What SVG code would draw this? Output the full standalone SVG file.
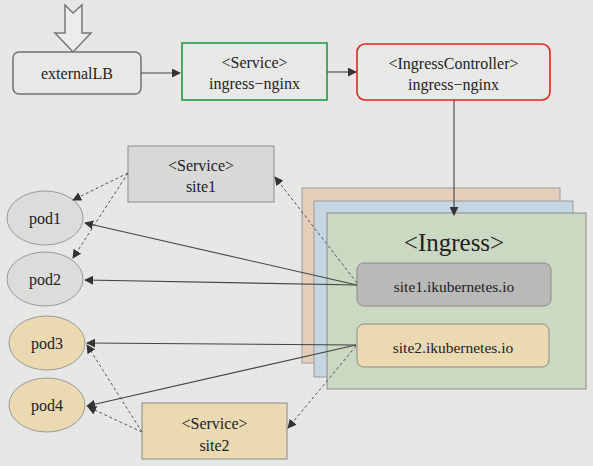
<svg xmlns="http://www.w3.org/2000/svg" width="593" height="466" viewBox="0 0 593 466">
<defs>
<pattern id="grid" width="8" height="8" patternUnits="userSpaceOnUse">
<path d="M8 0V8M0 8H8" stroke="#d9dbe2" stroke-width="0.6" stroke-dasharray="1 1" fill="none"/>
</pattern>
<marker id="ah" viewBox="0 0 10 10" refX="9" refY="5" markerWidth="9" markerHeight="9" markerUnits="userSpaceOnUse" orient="auto">
<path d="M0 0L10 5L0 10Z" fill="#333"/>
</marker>
</defs>
<style>
.t{fill:#222;text-anchor:middle;font-size:16px;font-family:'Liberation Serif','Times New Roman',serif}
.big{font-size:25px}
.mid{font-size:15.5px}
.solid{stroke:#444;stroke-width:1.1;fill:none;marker-end:url(#ah)}
.dash{stroke:#555;stroke-width:1;stroke-dasharray:3 2.5;fill:none;marker-end:url(#ah)}
.pod{stroke:#999;stroke-width:1}
</style>
<rect width="593" height="466" fill="#e7e8e6"/>
<rect width="593" height="466" fill="url(#grid)"/>

<g id="entry-arrow">
<path d="M65 5L73 13L82 5V33H91L73 52L55 33H65Z" fill="#ecedeb" stroke="#777" stroke-width="1.5"/>
</g>

<g id="externalLB">
<rect x="13" y="52" width="128" height="42" rx="6" fill="#e8e9e7" stroke="#707070" stroke-width="1.5"/>
<text class="t" x="77" y="79">externalLB</text>
</g>

<g id="service-ingress-nginx">
<rect x="182" y="43" width="145" height="57" fill="#e8e9e7" stroke="#1f9a45" stroke-width="1.6"/>
<text class="t" x="254.5" y="68">&lt;Service&gt;</text>
<text class="t" x="254.5" y="89">ingress−nginx</text>
</g>

<g id="ingress-controller">
<rect x="357" y="44" width="193" height="56" rx="8" fill="#e8e9e7" stroke="#e8231c" stroke-width="1.6"/>
<text class="t" x="453.5" y="69">&lt;IngressController&gt;</text>
<text class="t" x="453.5" y="90">ingress−nginx</text>
</g>

<g id="service-site1">
<rect x="128" y="146" width="146" height="56" fill="#d8d9d6" stroke="#8a8a8a" stroke-width="1"/>
<text class="t" x="201" y="171">&lt;Service&gt;</text>
<text class="t" x="201" y="192">site1</text>
</g>

<g id="pod1"><ellipse class="pod" cx="45" cy="218" rx="38" ry="27" fill="#dcdcda"/><text class="t" x="45" y="224">pod1</text></g>
<g id="pod2"><ellipse class="pod" cx="45" cy="279" rx="38" ry="27" fill="#dcdcda"/><text class="t" x="45" y="285">pod2</text></g>
<g id="pod3"><ellipse class="pod" cx="47" cy="343" rx="38" ry="27" fill="#ead9b1"/><text class="t" x="47" y="349">pod3</text></g>
<g id="pod4"><ellipse class="pod" cx="47" cy="405" rx="38" ry="27" fill="#ead9b1"/><text class="t" x="47" y="411">pod4</text></g>

<g id="service-site2">
<rect x="142" y="403" width="145" height="56" fill="#ead9b1" stroke="#8a8a8a" stroke-width="1"/>
<text class="t" x="214.5" y="429">&lt;Service&gt;</text>
<text class="t" x="214.5" y="451">site2</text>
</g>

<g id="ingress">
<rect x="302" y="188" width="258" height="175" fill="#e6cfba" stroke="#999" stroke-width="1"/>
<rect x="314" y="201" width="259" height="176" fill="#c6d5e2" stroke="#999" stroke-width="1"/>
<rect x="327" y="213" width="259" height="176" fill="#cbd9c3" stroke="#8a8a8a" stroke-width="1"/>
<text class="t big" x="454" y="251">&lt;Ingress&gt;</text>
<g id="rule-site1">
<rect x="357" y="263" width="194" height="43" rx="7" fill="#b9b9b8" stroke="#8a8a8a" stroke-width="1"/>
<text class="t mid" x="454" y="292">site1.ikubernetes.io</text>
</g>
<g id="rule-site2">
<rect x="357" y="324" width="192" height="43" rx="7" fill="#ead9b1" stroke="#8a8a8a" stroke-width="1"/>
<text class="t mid" x="453" y="353">site2.ikubernetes.io</text>
</g>
</g>

<g id="connectors">
<line class="solid" x1="141" y1="73" x2="180" y2="73"/>
<line class="solid" x1="327" y1="72" x2="356" y2="72"/>
<line class="solid" x1="454" y1="100" x2="454" y2="215"/>
<line class="solid" x1="357" y1="285" x2="85" y2="223"/>
<line class="solid" x1="357" y1="285" x2="85" y2="280"/>
<line class="dash" x1="357" y1="283" x2="275" y2="177"/>
<line class="dash" x1="128" y1="173" x2="73" y2="200"/>
<line class="dash" x1="128" y1="173" x2="73" y2="258"/>
<line class="solid" x1="356" y1="345" x2="87" y2="343"/>
<line class="solid" x1="356" y1="345" x2="87" y2="406"/>
<line class="dash" x1="356" y1="346" x2="288" y2="428"/>
<line class="dash" x1="142" y1="432" x2="87" y2="345"/>
<line class="dash" x1="142" y1="432" x2="88" y2="407"/>
</g>
</svg>
